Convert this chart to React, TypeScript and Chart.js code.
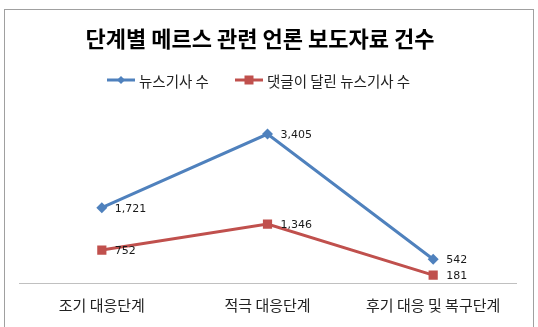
import React, { useEffect, useRef } from "react";
import { Chart, registerables } from "chart.js";

Chart.register(...registerables);

const categories = ["조기 대응단계", "적극 대응단계", "후기 대응 및 복구단계"];
const seriesNames = ["뉴스기사 수", "댓글이 달린 뉴스기사 수"];
const newsCounts = [1721, 3405, 542];
const commentedCounts = [752, 1346, 181];
const chartTitle = "단계별 메르스 관련 언론 보도자료 건수";

const BLUE = "#4F81BD";
const RED = "#C0504D";
const KR = "'Noto Sans CJK KR', 'Noto Sans', sans-serif";

const fmt = (v: number) => v.toLocaleString("en-US");

const decorPlugin = {
  id: "decor",
  beforeDraw(chart: any) {
    const ctx = chart.ctx;
    ctx.save();
    ctx.fillStyle = "#ffffff";
    ctx.fillRect(0, 0, chart.width, chart.height);
    ctx.strokeStyle = "#a0a0a0";
    ctx.lineWidth = 1;
    ctx.strokeRect(4.5, 9.5, 529, 330);
    // title
    ctx.fillStyle = "#000000";
    ctx.font = `bold 22px ${KR}`;
    ctx.textAlign = "center";
    ctx.textBaseline = "middle";
    ctx.fillText(chartTitle, 260, 39);
    // legend
    const items = [
      { x: 107, color: BLUE, style: "diamond", text: seriesNames[0] },
      { x: 235, color: RED, style: "square", text: seriesNames[1] },
    ];
    ctx.font = `14.5px ${KR}`;
    ctx.textAlign = "left";
    items.forEach((it) => {
      const y = 80;
      ctx.strokeStyle = it.color;
      ctx.lineWidth = 3;
      ctx.beginPath();
      ctx.moveTo(it.x, y);
      ctx.lineTo(it.x + 28, y);
      ctx.stroke();
      ctx.fillStyle = it.color;
      const cx = it.x + 14;
      ctx.beginPath();
      if (it.style === "diamond") {
        ctx.moveTo(cx, y - 4);
        ctx.lineTo(cx + 4, y);
        ctx.lineTo(cx, y + 4);
        ctx.lineTo(cx - 4, y);
        ctx.closePath();
      } else {
        ctx.rect(cx - 4.5, y - 4.5, 9, 9);
      }
      ctx.fill();
      ctx.fillStyle = "#222222";
      ctx.fillText(it.text, it.x + 32, y + 1);
    });
    ctx.restore();
  },
  afterDatasetsDraw(chart: any) {
    const ctx = chart.ctx;
    ctx.save();
    ctx.font = "11px 'DejaVu Sans', sans-serif";
    ctx.fillStyle = "#1a1a1a";
    ctx.textAlign = "left";
    ctx.textBaseline = "middle";
    chart.data.datasets.forEach((ds: any, i: number) => {
      const meta = chart.getDatasetMeta(i);
      meta.data.forEach((pt: any, j: number) => {
        ctx.fillText(fmt(ds.data[j]), pt.x + 13, pt.y + 1);
      });
    });
    ctx.restore();
  },
};

export default function App() {
  const ref = useRef<HTMLCanvasElement>(null);
  useEffect(() => {
    if (!ref.current) return;
    const chart = new Chart(ref.current, {
      type: "line",
      data: {
        labels: categories,
        datasets: [
          {
            label: seriesNames[0],
            data: newsCounts,
            borderColor: BLUE,
            backgroundColor: BLUE,
            borderWidth: 3,
            pointStyle: "rectRot",
            pointRadius: 5.5,
            pointBorderWidth: 0,
            tension: 0,
          },
          {
            label: seriesNames[1],
            data: commentedCounts,
            borderColor: RED,
            backgroundColor: RED,
            borderWidth: 3,
            pointStyle: "rect",
            pointRadius: 6.5,
            pointBorderWidth: 0,
            tension: 0,
          },
        ],
      },
      plugins: [decorPlugin],
      options: {
        responsive: false,
        animation: false,
        layout: { padding: { left: 19, right: 22, top: 108, bottom: 0 } },
        plugins: {
          legend: { display: false },
          title: { display: false },
          tooltip: { enabled: false },
        },
        scales: {
          y: { display: false, min: 0, max: 4000 },
          x: {
            offset: true,
            grid: { display: false, drawTicks: false, tickLength: 0 },
            border: { display: true, color: "#c0c0c0", width: 1 },
            ticks: {
              padding: 13,
              color: "#222222",
              font: { family: KR, size: 15 },
              maxRotation: 0,
              autoSkip: false,
            },
          },
        },
      },
    });
    return () => chart.destroy();
  }, []);
  return (
    <div style={{ position: "absolute", left: 0, top: 0, width: 538, height: 327 }}>
      <canvas ref={ref} width={538} height={327} style={{ display: "block" }} />
    </div>
  );
}
